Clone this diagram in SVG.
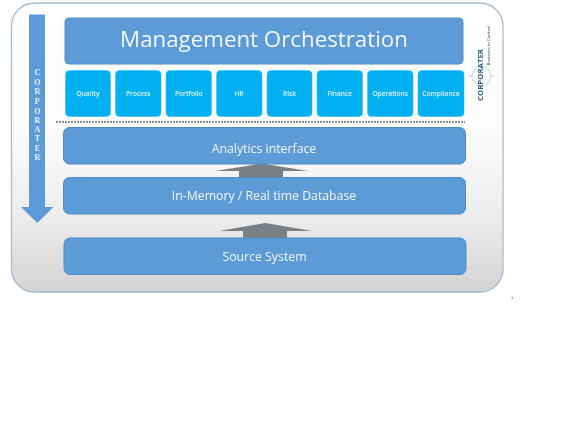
<svg xmlns="http://www.w3.org/2000/svg" width="580" height="435" viewBox="0 0 580 435">
<style>
text{font-family:"Open Sans","Noto Sans","DejaVu Sans",sans-serif;fill:#f2f7fc;text-anchor:middle}
.bar{fill:#5b9bd5;stroke:#4f8cc6;stroke-width:1}
.tile{fill:#00b0f0;stroke:#29bdf2;stroke-width:.5}
.t{font-size:6.600px;font-weight:600;fill:#e4f5fd}
.b{font-size:12.300px}
.v{font-family:"Liberation Serif",serif;font-size:8px;font-weight:700;fill:#e8f1fa}
.arr{fill:url(#ga)}
</style>
<defs>
<linearGradient id="bg" x1="0" y1="0" x2="0" y2="1"><stop offset="0" stop-color="#fff"/><stop offset=".42" stop-color="#fcfcfc"/><stop offset=".75" stop-color="#ececec"/><stop offset="1" stop-color="#d3d3d3"/></linearGradient>
<linearGradient id="ga" x1="0" y1="0" x2="0" y2="1"><stop offset="0" stop-color="#757f88"/><stop offset="1" stop-color="#7f7f7f"/></linearGradient>
<filter id="soft" x="-5%" y="-5%" width="110%" height="110%"><feGaussianBlur stdDeviation=".35"/></filter>
</defs>
<g filter="url(#soft)">
<g id="frame"><rect x="11.500" y="3" width="491.500" height="289" rx="23" fill="url(#bg)" stroke="#a3bcd4" stroke-width="1.300"/></g>
<g id="corporater-arrow"><path d="M29 14.500H45V207H53.500L37.300 223L21 207H29Z" fill="#5b9bd5"/>
<text class="v" x="37.300" y="75">C</text><text class="v" x="37.300" y="84.700">O</text><text class="v" x="37.300" y="94.400">R</text><text class="v" x="37.300" y="104">P</text><text class="v" x="37.300" y="113.500">O</text><text class="v" x="37.300" y="123">R</text><text class="v" x="37.300" y="132">A</text><text class="v" x="37.300" y="141">T</text><text class="v" x="37.300" y="150.500">E</text><text class="v" x="37.300" y="160">R</text></g>
<g id="management"><rect class="bar" x="65" y="18" width="398" height="46" rx="4" stroke="none"/><text x="264" y="47" font-size="22.300">Management Orchestration</text></g>
<g id="quality"><rect class="tile" x="65.500" y="70.500" width="45" height="46" rx="4"/><text class="t" x="88" y="95.500">Quality</text></g>
<g id="process"><rect class="tile" x="115.500" y="70.500" width="45.500" height="46" rx="4"/><text class="t" x="138.200" y="95.500">Process</text></g>
<g id="portfolio"><rect class="tile" x="166" y="70.500" width="45.500" height="46" rx="4"/><text class="t" x="188.800" y="95.500">Portfolio</text></g>
<g id="hr"><rect class="tile" x="216.500" y="70.500" width="45.500" height="46" rx="4"/><text class="t" x="239" y="95.500">HR</text></g>
<g id="risk"><rect class="tile" x="267" y="70.500" width="45" height="46" rx="4"/><text class="t" x="289.500" y="95.500">Risk</text></g>
<g id="finance"><rect class="tile" x="317" y="70.500" width="45.500" height="46" rx="4"/><text class="t" x="339.800" y="95.500">Finance</text></g>
<g id="operations"><rect class="tile" x="367.500" y="70.500" width="45.500" height="46" rx="4"/><text class="t" x="390.200" y="95.500">Operations</text></g>
<g id="compliance"><rect class="tile" x="418" y="70.500" width="46" height="46" rx="4"/><text class="t" x="441" y="95.500">Compliance</text></g>
<g id="logo">
<circle cx="481.500" cy="76" r="9.500" fill="none" stroke="#cfe4f0" stroke-width="1.500"/>
<path d="M472 76H469M491 76H494M481.500 66.500V64M481.500 85.500V88" stroke="#cfe4f0" stroke-width="2"/>
<text x="481" y="75" font-size="7.800" font-weight="700" style="fill:#2f5f80" transform="rotate(-90 481 75)" dominant-baseline="middle">CORPORATER</text>
<text x="489" y="45.500" font-size="4.300" font-weight="600" style="fill:#46708c" transform="rotate(-90 489 45.500)" dominant-baseline="middle">Business in Control</text>
</g>
<g id="connectors">
<line x1="56" y1="122" x2="465" y2="122" stroke="#222" stroke-width="1" stroke-dasharray="2 1"/>
<path class="arr" d="M215 171L262 163.500L308 171H283V178H239V171Z"/>
<path class="arr" d="M219 231L265.500 223L312 231H287V238H243V231Z"/>
</g>
<g id="analytics"><rect class="bar" x="63.500" y="127.500" width="402" height="36.500" rx="6"/><text class="b" x="264" y="152.500">Analytics interface</text></g>
<g id="in-memory"><rect class="bar" x="63.500" y="177.500" width="402" height="36.500" rx="6"/><text class="b" x="264" y="200">In-Memory / Real time Database</text></g>
<g id="source"><rect class="bar" x="64" y="238" width="402" height="36.500" rx="6"/><text class="b" x="264.500" y="261">Source System</text></g>
</g>
<rect id="dot" x="511.500" y="297" width="1.500" height="1.500" fill="#e86a6a"/>
</svg>
